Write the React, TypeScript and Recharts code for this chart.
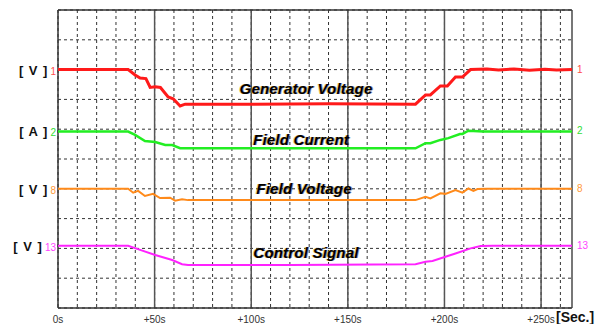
import React from "react";
import { LineChart, Line, XAxis, YAxis, CartesianGrid, ReferenceLine } from "recharts";

const TIME_TICKS = [0, 10, 20, 30, 40, 50, 60, 70, 80, 90, 100, 110, 120, 130, 140, 150, 160, 170, 180, 190, 200, 210, 220, 230, 240, 250, 260];
const MAJOR_TICKS = [50, 100, 150, 200, 250];
const LEVEL_TICKS = [0, 1, 2, 3, 4, 5, 6, 7, 8, 9, 10];
const T_MAX = 266;

// [seconds, division]
const generatorVoltage = [
  [0, 8], [36.3, 8], [39.9, 7.82], [42.5, 7.72], [45.5, 7.7], [47.7, 7.4], [50.3, 7.42], [53, 7.4],
  [57, 7.08], [59.6, 7.02], [63.2, 6.78], [65.8, 6.84], [100, 6.84], [140, 6.85], [185, 6.84],
  [190.2, 7.15], [192.7, 7.15], [197.9, 7.45], [201.5, 7.45], [205.7, 7.75], [209.3, 7.75],
  [213.5, 8.0], [222, 8.02], [228, 7.99], [236, 8.02], [244, 7.98], [252, 8.01], [258, 7.99], [266, 8.0],
];
const fieldCurrent = [
  [0, 5.92], [36.3, 5.92], [39.9, 5.81], [45, 5.6], [50.3, 5.57], [55.5, 5.47], [59.1, 5.47],
  [63.2, 5.36], [120, 5.36], [185, 5.36], [190.2, 5.53], [192.7, 5.53], [197.9, 5.64], [202, 5.7],
  [208, 5.84], [209.3, 5.84], [212.4, 5.95], [220, 5.92], [266, 5.92],
];
const fieldVoltage = [
  [0, 4.0], [36.3, 4.0], [38.9, 3.87], [41.5, 3.93], [45, 3.76], [49.2, 3.83], [52.8, 3.69],
  [58, 3.7], [60.6, 3.6], [64.2, 3.65], [67.3, 3.62], [120, 3.62], [185, 3.62], [190.2, 3.73],
  [192.7, 3.68], [197.9, 3.85], [200.5, 3.83], [205.7, 3.96], [209.3, 3.87], [212.4, 4.01],
  [215, 3.93], [217.1, 3.99], [222, 4.0], [266, 4.0],
];
const controlSignal = [
  [0, 2.09], [36.3, 2.09], [42.5, 1.95], [50.3, 1.78], [59.1, 1.61], [64.2, 1.47], [67.3, 1.44],
  [120, 1.44], [185, 1.47], [190.2, 1.55], [193.8, 1.58], [200.5, 1.72], [205.7, 1.83],
  [213.5, 2.0], [218.7, 2.08], [225, 2.09], [266, 2.09],
];

const SERIES = [
  { name: "Generator Voltage", unit: "[ V ]", ch: "1", points: generatorVoltage, color: "#ff1a1a", label: "#ff4d4d", width: 3, y: 70, textY: 88, textX: 306 },
  { name: "Field Current", unit: "[ A ]", ch: "2", points: fieldCurrent, color: "#22ee22", label: "#33dd33", width: 2.5, y: 131, textY: 139, textX: 301 },
  { name: "Field Voltage", unit: "[ V ]", ch: "8", points: fieldVoltage, color: "#ff8a1a", label: "#ff9a3a", width: 2, y: 189, textY: 188, textX: 304 },
  { name: "Control Signal", unit: "[ V ]", ch: "13", points: controlSignal, color: "#ff22ff", label: "#ff44ff", width: 2, y: 246, textY: 252, textX: 306 },
];

const toData = (pts: number[][]) => pts.map(([t, v]) => ({ t, v }));

const fmtTime = (v: number) => (v % 50 !== 0 ? "" : v === 0 ? "0s" : `+${v}s`);

export default function App() {
  return (
    <div style={{ position: "absolute", left: 0, top: 0, width: 613, height: 324, background: "#fff", overflow: "hidden", fontFamily: "'Liberation Sans', Arial, sans-serif" }}>
      <LineChart width={613} height={324} margin={{ top: 10, right: 41, left: 58, bottom: 0 }}>
        <CartesianGrid stroke="#333" strokeDasharray="3 3" strokeWidth={1} />
        <XAxis
          dataKey="t"
          type="number"
          domain={[0, T_MAX]}
          ticks={TIME_TICKS}
          interval={0}
          tickFormatter={fmtTime}
          tickLine={false}
          axisLine={false}
          tickSize={0}
          tickMargin={8}
          height={16}
          tick={{ fontSize: 10, fill: "#333" }}
          allowDuplicatedCategory={false}
        />
        <YAxis hide type="number" domain={[0, 10]} ticks={LEVEL_TICKS} />
        {MAJOR_TICKS.map((x) => (
          <ReferenceLine key={x} x={x} stroke="#555" strokeWidth={1.5} />
        ))}
        <ReferenceLine x={0} stroke="#333" strokeWidth={1.5} />
        <ReferenceLine x={T_MAX} stroke="#777" strokeWidth={2} />
        <ReferenceLine y={0} stroke="#333" strokeWidth={1.5} />
        <ReferenceLine y={10} stroke="#333" strokeWidth={1.5} />
        {SERIES.map((s) => (
          <Line
            key={s.name}
            data={toData(s.points)}
            dataKey="v"
            type="linear"
            stroke={s.color}
            strokeWidth={s.width}
            dot={false}
            isAnimationActive={false}
          />
        ))}
      </LineChart>

      {SERIES.map((s) => (
        <React.Fragment key={s.name}>
          <div style={{ position: "absolute", right: 613 - 56, top: s.y, transform: "translateY(-50%)", whiteSpace: "nowrap", lineHeight: 1 }}>
            <span style={{ fontWeight: "bold", fontSize: 13, letterSpacing: 1, color: "#111", marginRight: 2 }}>{s.unit}</span>
            <span style={{ fontSize: 10, color: s.label }}>{s.ch}</span>
          </div>
          <div style={{ position: "absolute", left: 577, top: s.y, transform: "translateY(-50%)", fontSize: 10, color: s.label, lineHeight: 1 }}>
            {s.ch}
          </div>
          <div
            style={{
              position: "absolute",
              left: s.textX,
              top: s.textY,
              transform: "translate(-50%, -50%)",
              whiteSpace: "nowrap",
              fontSize: 15,
              fontWeight: "bold",
              fontStyle: "italic",
              letterSpacing: 0.2,
              color: "#000",
              lineHeight: 1,
              textShadow: "-1px 0 0 rgba(220,170,0,0.55), 1px 0 0 rgba(20,20,120,0.5)",
            }}
          >
            {s.name}
          </div>
        </React.Fragment>
      ))}
      <div style={{ position: "absolute", left: 556, top: 310, fontSize: 14, fontWeight: "bold", color: "#111", lineHeight: "14px", whiteSpace: "nowrap" }}>
        [Sec.]
      </div>
    </div>
  );
}
